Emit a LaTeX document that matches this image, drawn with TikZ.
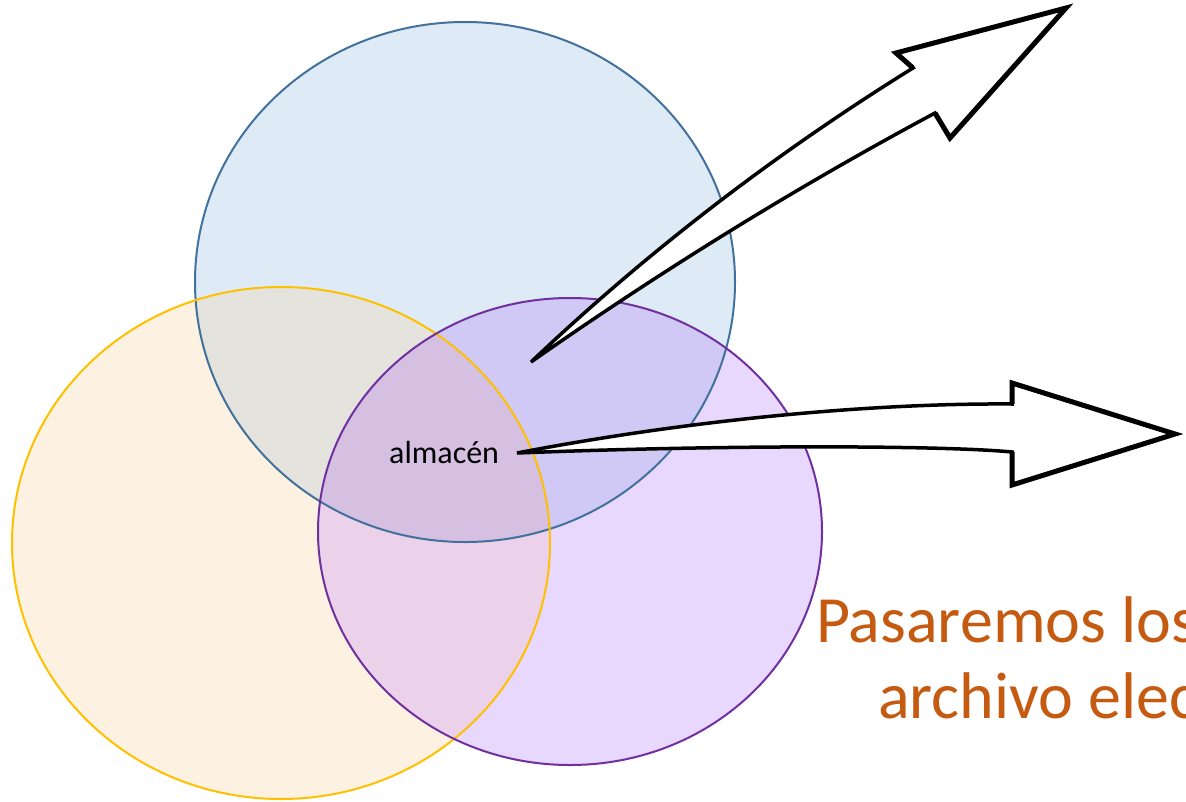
\documentclass[tikz,border=0pt]{standalone}
\usepackage{fontspec}
\setmainfont{Carlito}
\definecolor{blueF}{RGB}{222,235,247}
\definecolor{orangeF}{RGB}{253,241,225}
\definecolor{purpleF}{RGB}{232,216,254}
\definecolor{boF}{RGB}{229,227,222}
\definecolor{bpF}{RGB}{208,200,245}
\definecolor{opF}{RGB}{235,209,234}
\definecolor{bopF}{RGB}{213,192,226}
\definecolor{blueL}{RGB}{65,113,156}
\definecolor{orangeL}{RGB}{255,192,0}
\definecolor{purpleL}{RGB}{112,48,160}
\definecolor{txtO}{RGB}{197,90,17}
\tikzset{
  ring/.style={line width=2},
  blockarrow/.style={fill=white,draw=black,line width=3.5,line join=miter,miter limit=10},
  arrowhead/.style={draw=black,line width=5,line join=miter,miter limit=10},
  lbl/.style={inner sep=0pt,anchor=base west}
}
\begin{document}
\begin{tikzpicture}[x=1pt,y=-1pt]
\useasboundingbox (0,0) rectangle (1186,801);
\def\blueE{(465,282) ellipse [x radius=270, y radius=260]}
\def\orangeE{(281,543) ellipse [x radius=269, y radius=256]}
\def\purpleE{(570,531.5) ellipse [x radius=252, y radius=233.5]}
% fills
\fill[blueF] \blueE;
\fill[orangeF] \orangeE;
\fill[purpleF] \purpleE;
\begin{scope}\clip \blueE; \fill[boF] \orangeE; \end{scope}
\begin{scope}\clip \blueE; \fill[bpF] \purpleE; \end{scope}
\begin{scope}\clip \orangeE; \fill[opF] \purpleE; \end{scope}
\begin{scope}\clip \blueE; \clip \orangeE; \fill[bopF] \purpleE; \end{scope}
% outlines
\draw[ring,blueL] \blueE;
\draw[ring,orangeL] \orangeE;
\draw[ring,purpleL] \purpleE;
% text
\node[lbl,font=\fontsize{32}{38}\selectfont] (almacen) at (389,463) {almacén};
\node[lbl,font=\fontsize{66}{78}\selectfont,text=txtO] (pas) at (816,642) {Pasaremos los};
\node[lbl,font=\fontsize{66}{78}\selectfont,text=txtO] (arch) at (878,718) {archivo elec};
% arrow 1 (up-right)
\coordinate (t1) at (531,362);
\path[blockarrow] (t1) .. controls (648,251) and (776,153) .. (913,68) -- (896,53) -- (1066,8) -- (950,138) -- (935,113) .. controls (795,188) and (661,271) .. cycle;
\draw[arrowhead] (913,68) -- (896,53) -- (1066,8) -- (950,138) -- (935,113);
% arrow 2 (right)
\coordinate (t2) at (517,453);
\path[blockarrow] (t2) .. controls (700,418) and (880,403) .. (1012,404) -- (1012,383) -- (1175,434) -- (1012,485) -- (1012,452) .. controls (950,446) and (750,444) .. cycle;
\draw[arrowhead] (1012,404) -- (1012,383) -- (1175,434) -- (1012,485) -- (1012,452);
\end{tikzpicture}
\end{document}
